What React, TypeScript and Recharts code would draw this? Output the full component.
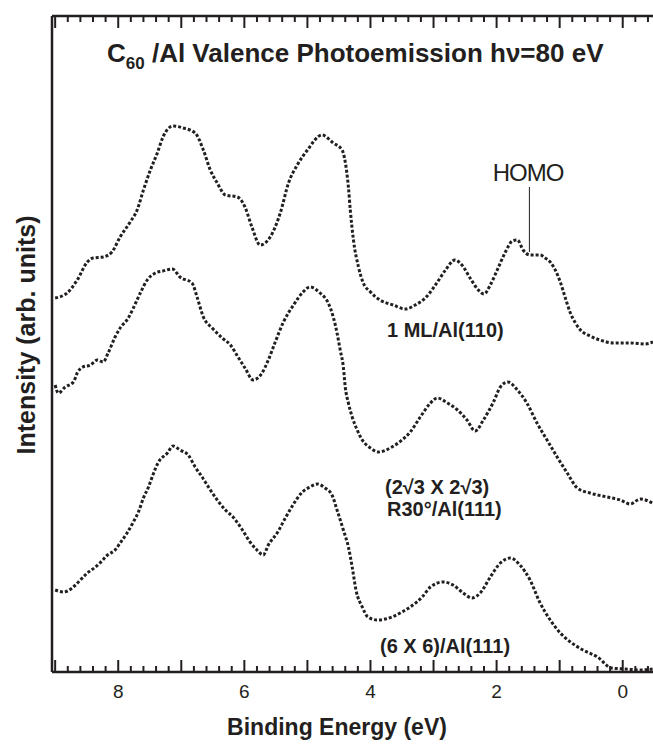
import React from 'react';
import {
  LineChart,
  Line,
  XAxis,
  YAxis,
  ReferenceLine,
  Customized,
} from 'recharts';

// 1 ML / Al(110)
const ml110Energy = [
  9.0, 8.81, 8.65, 8.49, 8.4, 8.24, 8.1, 7.97, 7.81, 7.7, 7.6, 7.49, 7.38, 7.29, 7.13, 6.97, 6.78, 6.65,
  6.54, 6.43, 6.3, 6.11, 5.99, 5.88, 5.75, 5.59, 5.43, 5.3, 5.16, 5.0, 4.77, 4.59, 4.45, 4.4, 4.35, 4.32,
  4.27, 4.19, 4.12, 4.0, 3.85, 3.64, 3.45, 3.29, 3.13, 2.97, 2.81, 2.66, 2.55, 2.42, 2.29, 2.2, 2.1, 1.99,
  1.86, 1.75, 1.67, 1.58, 1.47, 1.31, 1.23, 1.15, 1.07, 0.99, 0.91, 0.83, 0.75, 0.67, 0.52, 0.36, 0.15,
  -0.12, -0.36, -0.48,
];
const ml110Counts = [
  379, 384, 397, 415, 419, 420, 425, 440, 455, 467, 487, 507, 524, 540, 551, 549, 544, 527, 507, 494, 482,
  480, 470, 450, 432, 440, 464, 494, 512, 527, 542, 534, 527, 515, 490, 467, 437, 410, 395, 385, 377, 372,
  368, 372, 379, 392, 407, 417, 412, 399, 387, 383, 392, 407, 425, 436, 437, 427, 422, 422, 419, 415, 407,
  395, 379, 364, 354, 347, 341, 337, 334, 334, 333, 335,
];

// (2√3 x 2√3) R30° / Al(111)
const r30Energy = [
  9.0, 8.95, 8.84, 8.71, 8.65, 8.56, 8.44, 8.33, 8.24, 8.16, 8.05, 7.97, 7.84, 7.76, 7.65, 7.54, 7.41, 7.29,
  7.14, 7.02, 6.83, 6.75, 6.65, 6.51, 6.35, 6.22, 6.1, 5.99, 5.86, 5.72, 5.62, 5.51, 5.38, 5.22, 5.07, 4.96,
  4.8, 4.67, 4.59, 4.53, 4.48, 4.43, 4.4, 4.35, 4.29, 4.21, 4.13, 4.0, 3.88, 3.66, 3.5, 3.37, 3.21, 3.05,
  2.94, 2.78, 2.62, 2.47, 2.34, 2.21, 2.05, 1.94, 1.82, 1.67, 1.52, 1.36, 1.2, 1.04, 0.88, 0.72, 0.52, 0.25,
  0.04, -0.12, -0.28, -0.47,
];
const r30Counts = [
  292, 284, 290, 295, 304, 310, 312, 317, 315, 324, 340, 349, 359, 369, 384, 397, 404, 406, 408, 400, 394,
  380, 360, 349, 339, 332, 320, 309, 297, 304, 317, 335, 355, 372, 385, 390, 384, 374, 360, 344, 327, 310,
  290, 274, 260, 247, 237, 229, 225, 230, 237, 245, 260, 274, 279, 274, 267, 257, 246, 257, 275, 290, 295,
  287, 274, 254, 237, 220, 204, 189, 184, 180, 177, 173, 178, 174,
];

// (6 x 6) / Al(111)
const six6Energy = [
  9.0, 8.87, 8.73, 8.63, 8.49, 8.36, 8.29, 8.17, 8.05, 7.97, 7.86, 7.76, 7.68, 7.6, 7.52, 7.45, 7.37, 7.22,
  7.13, 7.02, 6.89, 6.78, 6.67, 6.57, 6.43, 6.3, 6.18, 6.03, 5.91, 5.8, 5.7, 5.62, 5.48, 5.35, 5.23, 5.08,
  4.96, 4.84, 4.72, 4.61, 4.53, 4.43, 4.35, 4.29, 4.23, 4.13, 4.04, 3.89, 3.66, 3.5, 3.37, 3.18, 3.05, 2.85,
  2.69, 2.53, 2.39, 2.26, 2.1, 1.94, 1.78, 1.63, 1.47, 1.31, 1.15, 0.99, 0.83, 0.63, 0.4, 0.18, -0.04,
  -0.28, -0.48,
];
const six6Counts = [
  87, 85, 89, 95, 104, 110, 114, 122, 127, 134, 144, 155, 165, 179, 190, 202, 214, 224, 231, 227, 222, 210,
  200, 190, 177, 167, 160, 147, 135, 127, 122, 132, 144, 159, 172, 185, 190, 193, 189, 182, 167, 147, 130,
  110, 87, 70, 60, 57, 60, 65, 70, 80, 90, 95, 92, 84, 79, 84, 100, 114, 119, 112, 97, 74, 57, 44, 35, 27,
  20, 9, 8, 7, 8,
];

const labeledTicks = [8, 6, 4, 2, 0];
// minor ticks every 0.2 eV
const energyTicks = Array.from({ length: 48 }, (_, i) => Math.round((9 - i * 0.2) * 10) / 10);

const homoEnergy = 1.48;
const homoLine = [425, 490];

const ink = '#231f20';
const font = '"Liberation Sans", Arial, Helvetica, sans-serif';
const energyDomain = [-0.48, 9.05];
const countsDomain = [5, 661];

const W = 653;
const H = 744;
const margin = { top: 14, right: 0, bottom: 42, left: 50 };
const topAxisH = 2;
const bottomAxisH = 30;
const plotH = H - margin.top - margin.bottom - topAxisH - bottomAxisH;

const toRows = (xs: number[], ys: number[]) => xs.map((e, i) => ({ energy: e, counts: ys[i] }));

const ml110Data = toRows(ml110Energy, ml110Counts);
const r30Data = toRows(r30Energy, r30Counts);
const six6Data = toRows(six6Energy, six6Counts);

const isWhole = (v: number) => Math.abs(v - Math.round(v)) < 1e-6;

// draws the inward tick on the bottom frame and its twin on the top frame
const FrameTick = (props: any) => {
  const { x, y, payload } = props;
  const v = payload.value as number;
  const major = isWhole(v);
  const len = major ? 12 : 6;
  const showLabel = major && labeledTicks.includes(Math.round(v));
  const yTop = y - plotH;
  return (
    <g>
      <line x1={x} x2={x} y1={y} y2={y - len} stroke={ink} strokeWidth={2} />
      <line x1={x} x2={x} y1={yTop} y2={yTop + len} stroke={ink} strokeWidth={2} />
      {showLabel && (
        <text x={x} y={y + 26} textAnchor="middle" fontSize={19} fill={ink} fontFamily={font}>
          {Math.abs(Math.round(v))}
        </text>
      )}
    </g>
  );
};

const Annotations = () => (
  <g fontFamily={font} fill={ink}>
    <text x={107} y={62} fontSize={26} fontWeight="bold">
      C<tspan fontSize={17} dy={7}>60</tspan>
      <tspan dy={-7}> /Al Valence Photoemission hν=80 eV</tspan>
    </text>
    <text x={528} y={181} fontSize={24} textAnchor="middle" letterSpacing={-1}>
      HOMO
    </text>
    <text x={387} y={337} fontSize={20} fontWeight="bold">
      1 ML/Al(110)
    </text>
    <text x={385} y={494} fontSize={20} fontWeight="bold">
      (2√3 X 2√3)
    </text>
    <text x={387} y={516} fontSize={20} fontWeight="bold">
      R30°/Al(111)
    </text>
    <text x={380} y={653} fontSize={20} fontWeight="bold">
      (6 X 6)/Al(111)
    </text>
    <text x={337} y={735} fontSize={23} fontWeight="bold" textAnchor="middle">
      Binding Energy (eV)
    </text>
    <text
      x={0}
      y={0}
      fontSize={25}
      fontWeight="bold"
      textAnchor="middle"
      transform="translate(35 335) rotate(-90)"
    >
      Intensity (arb. units)
    </text>
  </g>
);

const seriesStyle = {
  type: 'monotone' as const,
  dataKey: 'counts',
  stroke: ink,
  strokeWidth: 3,
  strokeDasharray: '3 2',
  dot: false,
  activeDot: false,
  isAnimationActive: false,
};

export default function App() {
  return (
    <div style={{ position: 'absolute', left: 0, top: 0, background: '#fff' }}>
      <LineChart width={W} height={H} margin={margin}>
        <XAxis
          dataKey="energy"
          type="number"
          domain={energyDomain}
          reversed
          allowDataOverflow
          ticks={energyTicks}
          interval={0}
          height={bottomAxisH}
          tickSize={0}
          tickMargin={0}
          tickLine={false}
          tick={<FrameTick />}
          axisLine={{ stroke: ink, strokeWidth: 2.5 }}
        />
        <XAxis
          xAxisId="top"
          orientation="top"
          dataKey="energy"
          type="number"
          domain={energyDomain}
          reversed
          allowDataOverflow
          height={topAxisH}
          tick={false}
          tickLine={false}
          axisLine={{ stroke: ink, strokeWidth: 2.5 }}
        />
        <YAxis
          type="number"
          domain={countsDomain}
          allowDataOverflow
          width={2}
          tick={false}
          tickLine={false}
          axisLine={{ stroke: ink, strokeWidth: 2.5 }}
        />
        <Line xAxisId="top" data={ml110Data} {...seriesStyle} />
        <Line data={r30Data} {...seriesStyle} />
        <Line data={six6Data} {...seriesStyle} />
        <ReferenceLine
          segment={[
            { x: homoEnergy, y: homoLine[0] },
            { x: homoEnergy, y: homoLine[1] },
          ]}
          stroke={ink}
          strokeWidth={1}
          ifOverflow="visible"
        />
        <Customized component={Annotations} />
      </LineChart>
    </div>
  );
}
